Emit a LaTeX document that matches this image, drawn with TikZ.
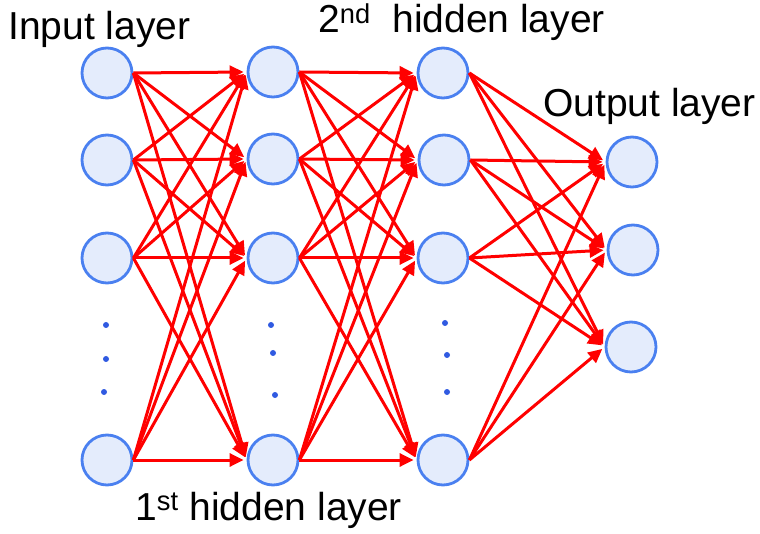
\documentclass[tikz,border=0pt]{standalone}
\usepackage{fontspec}
\setmainfont{Liberation Sans}
\usepackage{tikz}
\usetikzlibrary{arrows.meta}
\definecolor{nodefill}{RGB}{228,236,252}
\definecolor{nodeline}{RGB}{74,128,240}
\definecolor{dotblue}{RGB}{48,90,225}

\begin{document}
\begin{tikzpicture}[x=1pt,y=-1pt,
                    neuron/.style={circle,draw=nodeline,fill=nodefill,line width=2.8pt,
                                   minimum size=50pt,inner sep=0pt},
                    link/.style={draw=red,line width=3pt,shorten >=3pt,
                                 -{Triangle[length=14pt,width=13pt]}},
                    vdot/.style={circle,fill=dotblue,inner sep=0pt,minimum size=6pt},
                    title/.style={anchor=base west,inner sep=0pt,font=\fontsize{39}{41}\selectfont}]
\useasboundingbox (0,0) rectangle (760,534);

% layers
\node[neuron] (in1) at (107,73) {};
\node[neuron] (in2) at (107,160) {};
\node[neuron] (in3) at (107,258) {};
\node[neuron] (in4) at (107,460) {};

\node[neuron] (ha1) at (273,72) {};
\node[neuron] (ha2) at (273,159) {};
\node[neuron] (ha3) at (273,258) {};
\node[neuron] (ha4) at (273,460) {};

\node[neuron] (hb1) at (443,73) {};
\node[neuron] (hb2) at (444,160) {};
\node[neuron] (hb3) at (443,258) {};
\node[neuron] (hb4) at (443,460) {};

\node[neuron] (out1) at (632,162) {};
\node[neuron] (out2) at (633,250) {};
\node[neuron] (out3) at (631,347) {};

% dots
\node[vdot] (da1) at (106,325) {};
\node[vdot] (da2) at (106,359) {};
\node[vdot] (da3) at (104,392) {};
\node[vdot] (db1) at (271,325) {};
\node[vdot] (db2) at (273,353) {};
\node[vdot] (db3) at (275,395) {};
\node[vdot] (dc1) at (445,323) {};
\node[vdot] (dc2) at (447,355) {};
\node[vdot] (dc3) at (447,392) {};

% connections
\foreach \i in {1,...,4}
  \foreach \j in {1,...,4} {
    \draw[link] (in\i.east) -- (ha\j.west);
    \draw[link] (ha\i.east) -- (hb\j.west);
  }
\foreach \i in {1,...,4}
  \foreach \j in {1,...,3}
    \draw[link] (hb\i.east) -- (out\j.west);

% labels
\node[title] (tin) at (8,40) {Input layer};
\node[title] (thb) at (318,33) {2\textsuperscript{nd}\ \ hidden layer};
\node[title] (tout) at (543,117) {Output layer};
\node[title] (tha) at (135,520) {1\textsuperscript{st} hidden layer};
\end{tikzpicture}
\end{document}
